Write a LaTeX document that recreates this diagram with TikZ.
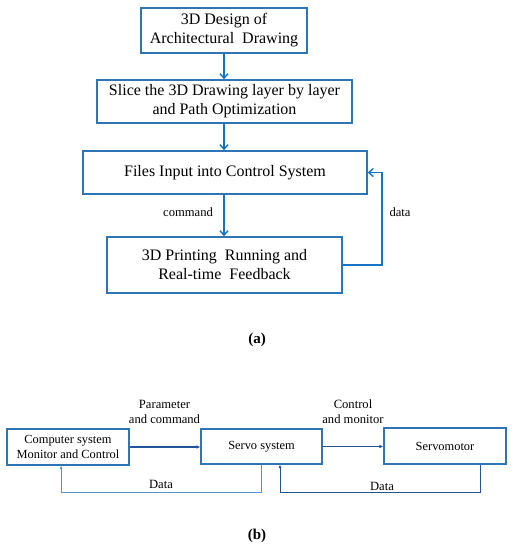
\documentclass[tikz,border=0pt]{standalone}
\usepackage{fontspec}
\setmainfont{Liberation Serif}
\usetikzlibrary{arrows.meta,calc}
\definecolor{boxblue}{RGB}{46,117,182}
\definecolor{arrblue}{RGB}{20,115,195}
\definecolor{darkarr}{RGB}{35,85,150}
\definecolor{lightarr}{RGB}{80,150,215}
\begin{document}
\begin{tikzpicture}[x=1pt,y=-1pt,
  topbox/.style={draw=boxblue,line width=1.5pt,fill=white,align=center,inner sep=0pt,
    font=\fontsize{16}{19}\selectfont},
  botbox/.style={draw=boxblue,line width=1.1pt,fill=white,align=center,inner sep=0pt,
    font=\fontsize{12.4}{15}\selectfont},
  toparr/.style={draw=arrblue,line width=1.4pt,-{Straight Barb[length=4.5pt,width=8pt]}},
  botarr/.style={draw=darkarr,line width=1.1pt,-{Latex[length=4pt,width=3.5pt]}},
  fbarr/.style={line width=1pt,-{Latex[length=3.5pt,width=3pt]}},
  lbl/.style={font=\fontsize{12.6}{15}\selectfont,align=center,inner sep=0pt},
  captxt/.style={font=\fontsize{15}{18}\selectfont\bfseries,inner sep=0pt}]
\useasboundingbox[fill=white] (0,0) rectangle (516,550);
% (a)
\node[topbox,minimum width=166pt,minimum height=45pt] (b1) at (224,30.5) {3D Design of\\Architectural\ \ Drawing};
\node[topbox,minimum width=255pt,minimum height=43pt] (b2) at (224.5,101.5) {Slice the 3D Drawing layer by layer\\and Path Optimization};
\node[topbox,minimum width=284pt,minimum height=43pt] (b3) at (225,172.5) {Files Input into Control System};
\node[topbox,minimum width=235pt,minimum height=56pt] (b4) at (224.5,265) {3D Printing\ \ Running and\\Real-time\ \ Feedback};
\coordinate (fa) at (382,265);
\draw[toparr] (b1.south) -- (b1.south |- b2.north);
\draw[toparr] (b1.south |- b2.south) -- (b1.south |- b3.north);
\draw[toparr] (b1.south |- b3.south) -- (b1.south |- b4.north);
\draw[toparr] (b4.east) -- (fa) |- (b3.east);
\node[lbl] (lcmd) at (188,212) {command};
\node[lbl] (ldata) at (400,212) {data};
\node[captxt] (capa) at (257,340) {(a)};
% (b)
\node[botbox,minimum width=122pt,minimum height=36pt] (b5) at (68,447) {Computer system\\Monitor and Control};
\node[botbox,minimum width=121pt,minimum height=35pt] (b6) at (261.5,446.5) {Servo system};
\node[botbox,minimum width=122pt,minimum height=36pt] (b7) at (445,446) {Servomotor};
\draw[botarr] (b5.east) -- (b5.east -| b6.west);
\draw[botarr] (b6.east) -- (b6.east -| b7.west);
\node[lbl] (lpar) at (164.5,411.5) {Parameter\\and command};
\node[lbl] (lctl) at (353,411.5) {Control\\and monitor};
\coordinate (f1) at (61,492);
\coordinate (f2) at (280,492);
\draw[fbarr,draw=lightarr] (b6.south) |- (f1) -- (f1 |- b5.south);
\draw[fbarr,draw=darkarr] ($(b7.south)+(35,0)$) |- (f2) -- (f2 |- b6.south);
\node[lbl] (ld1) at (161,484) {Data};
\node[lbl] (ld2) at (382,486) {Data};
\node[captxt] (capb) at (257,536) {(b)};
\end{tikzpicture}
\end{document}
